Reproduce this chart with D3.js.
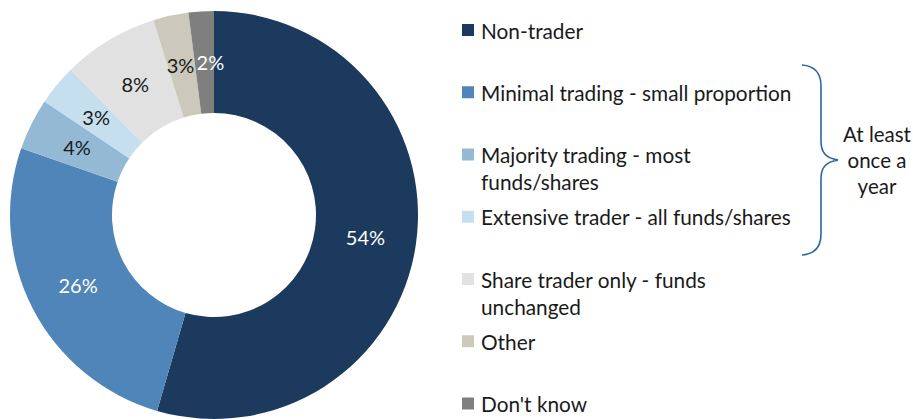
<!DOCTYPE html>
<html>
<head>
<meta charset="utf-8">
<script src="https://cdn.jsdelivr.net/npm/d3@7"></script>
<style>
html,body{margin:0;padding:0;background:#fff;}
svg{display:block;}
text{font-family:Lato,"Open Sans",sans-serif;}
</style>
</head>
<body>
<svg id="chart" width="913" height="419"></svg>
<script>
const categories = [
  "Non-trader",
  "Minimal trading - small proportion",
  "Majority trading - most funds/shares",
  "Extensive trader - all funds/shares",
  "Share trader only - funds unchanged",
  "Other",
  "Don't know"
];
const legendLines = [
  ["Non-trader"],
  ["Minimal trading - small proportion"],
  ["Majority trading - most", "funds/shares"],
  ["Extensive trader - all funds/shares"],
  ["Share trader only - funds", "unchanged"],
  ["Other"],
  ["Don't know"]
];
const values = [54.5, 25.8, 4.1, 3.2, 7.6, 2.8, 2.0];
const valueLabels = ["54%", "26%", "4%", "3%", "8%", "3%", "2%"];
const colors = ["#1c3a5e", "#4f85b8", "#93b9d5", "#c6dfef", "#e1e1e1", "#ccc8bc", "#7f7f7f"];
const labelColors = ["#ffffff", "#ffffff", "#1a1a1a", "#1a1a1a", "#1a1a1a", "#1a1a1a", "#ffffff"];
const bracketText = ["At least", "once a", "year"];

const svg = d3.select("#chart");
const cx = 214, cy = 215, rOuter = 204, rInner = 102;

const pie = d3.pie().sort(null).value(d => d);
const arcs = pie(values);
const arc = d3.arc().innerRadius(rInner).outerRadius(rOuter);

const g = svg.append("g").attr("transform", `translate(${cx},${cy})`);
g.selectAll("path.slice").data(arcs).enter().append("path")
  .attr("class", "slice")
  .attr("d", arc)
  .attr("fill", (d, i) => colors[i]);

// last two tiny slices: spread labels apart slightly so they don't collide
const n = arcs.length;
g.selectAll("text.val").data(arcs).enter().append("text")
  .attr("class", "val")
  .attr("transform", (d, i) => {
    const c = arc.centroid(d);
    const dx = i === n - 1 ? 6 : (i === n - 2 ? -1 : 0);
    return `translate(${c[0] + dx},${c[1]})`;
  })
  .attr("text-anchor", "middle")
  .attr("dominant-baseline", "central")
  .attr("font-size", 20)
  .attr("fill", (d, i) => labelColors[i])
  .text((d, i) => valueLabels[i]);

// Legend
const legY = d3.scaleLinear().domain([0, categories.length - 1]).range([30, 403.5]);
const leg = svg.append("g");
const items = leg.selectAll("g.item").data(categories).enter().append("g")
  .attr("class", "item")
  .attr("transform", (d, i) => `translate(462,${legY(i)})`);
items.append("rect")
  .attr("x", 0).attr("y", -6).attr("width", 12).attr("height", 12)
  .attr("fill", (d, i) => colors[i]);
items.each(function(d, i) {
  const t = d3.select(this).append("text")
    .attr("x", 19)
    .attr("font-size", 20.8)
    .attr("fill", "#1a1a1a");
  legendLines[i].forEach((ln, j) => {
    t.append("tspan").attr("x", 19).attr("y", j * 27)
      .attr("dominant-baseline", "central").text(ln);
  });
});

// Bracket
const p = d3.path();
p.moveTo(802, 65);
p.bezierCurveTo(815, 66, 821, 73, 821, 86);
p.lineTo(821, 141);
p.bezierCurveTo(821, 153, 826, 158, 838, 160);
p.bezierCurveTo(826, 162, 821, 167, 821, 179);
p.lineTo(821, 234);
p.bezierCurveTo(821, 247, 815, 254, 802, 255);
svg.append("path").attr("d", p.toString())
  .attr("fill", "none").attr("stroke", "#2f64a6").attr("stroke-width", 1.6);

const bt = svg.append("text").attr("font-size", 20.5).attr("fill", "#1a1a1a")
  .attr("text-anchor", "middle");
bracketText.forEach((ln, j) => {
  bt.append("tspan").attr("x", 877).attr("y", 134 + j * 26)
    .attr("dominant-baseline", "central").text(ln);
});
</script>
</body>
</html>
